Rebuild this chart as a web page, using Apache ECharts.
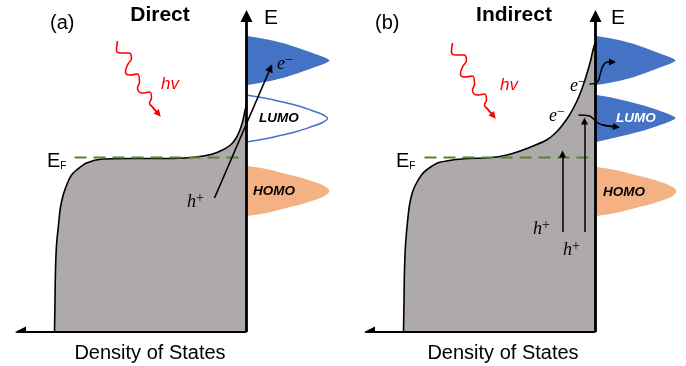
<!DOCTYPE html>
<html>
<head>
<meta charset="utf-8">
<script src="https://cdn.jsdelivr.net/npm/echarts@6/dist/echarts.min.js"></script>
<style>
html,body{margin:0;padding:0;background:#fff;}
#main{width:686px;height:366px;}
</style>
</head>
<body>
<div id="main"></div>
<script>
// units: x = density (0 on the E axis, metal states to the left), y = energy (0 at the DOS axis)
var dosA = [[-192,0],[-191.5,32],[-191,62],[-190,87],[-188,107],[-186,125],[-183,138],[-179,149],[-175,157],[-170,162],[-160,169],[-144,173],[-117,173.5],[-87,173.5],[-62,174],[-47,175.5],[-34,178],[-24,182],[-16,187],[-11,193],[-7,201],[-4,210],[-2,219],[0,228]];
var dosB = [[-192,0],[-191.5,32],[-191,62],[-190,87],[-188,110],[-186,127],[-183,140],[-179,149],[-174,157],[-169,162],[-158,169],[-143,172],[-126,173.5],[-111,174],[-96,175.5],[-83,178.5],[-66,184.5],[-49,192],[-40,199],[-33,207],[-26,217],[-19,230],[-14,242],[-9,257],[-5,271],[-2,284],[0,290]];
var fermiA = [[-172,174.5],[0,174.5]];
var fermiB = [[-171,174.5],[0,174.5]];

// molecular levels (width of the level vs energy)
var upperA = [[0,296],[18,293],[36,289],[52,284],[66,279],[77,275],[83,271.5],[77,268],[66,264],[52,259],[36,254],[18,250],[0,247]];
var lumoA  = [[0,237],[18,234],[36,230],[52,226],[64,222],[75,218],[81,213.5],[75,209],[64,205],[52,201],[36,197],[18,193],[0,190]];
var homoA  = [[0,166],[20,163],[40,158],[56,154],[68,150],[78,146],[83,141],[78,136],[68,132],[56,128],[40,124],[20,119],[0,116]];
var upperB = [[0,296],[18,293],[35,289],[50,284],[63,279],[74,275],[80,271.5],[74,268],[63,264],[50,259],[35,254],[18,250],[0,247]];
var lumoB  = [[0,237],[18,234],[35,230],[50,226],[62,222],[73,218],[80,214],[73,210],[62,206],[50,202],[35,198],[18,194],[0,190]];
var homoB  = [[0,165],[20,162],[40,157],[56,153],[68,149],[77,145],[81,141],[77,136],[68,132],[56,128],[40,124],[20,119],[0,116]];

// photons
var waveA = [[-129,291],[-130,282],[-126,279],[-118,279],[-115,274],[-119,267],[-121,260],[-117,257],[-109,258],[-107,250],[-109,244],[-104,239],[-97,240],[-95,234],[-97,229],[-94,225],[-88,218]];
var waveB = [[-143,289],[-144,280],[-140,277],[-132,277],[-129,272],[-133,265],[-135,258],[-131,255],[-123,256],[-121,248],[-123,242],[-118,237],[-111,238],[-109,232],[-111,227],[-108,223],[-102,216]];

// carrier transitions
var directA = [[-32,134],[24,264]];
var holeB1 = [[-33,100],[-33,178]];
var holeB2 = [[-11,100],[-11,211]];
var hopB1 = [[-6,248],[2,250],[5,259],[8,267],[12,270],[17,270]];
var hopB2 = [[-17,217],[-6,216],[1,210],[7,207],[21,205]];

var axisE = [[0,0],[0,316]];
var axisD = [[0,0],[-226,0]];

var SANS = '"Liberation Sans", Arial, sans-serif';
var SERIF = '"Liberation Serif", "DejaVu Serif", serif';
var BLUE = '#4472C4', ORANGE = '#F4B183', GRAY = '#AEAAAA', GREEN = '#548235';

var myChart = echarts.init(document.getElementById('main'));

function level(g, pts, fill, stroke, open) {
	return {
		type: 'custom', xAxisIndex: g, yAxisIndex: g, data: [0], silent: true, z: 2,
		renderItem: function(params, api) {
			var p = pts.map(function(d){ return api.coord(d); });
			var xs = p.map(function(q){ return q[0]; }), ys = p.map(function(q){ return q[1]; });
			var box = [[Math.min.apply(null, xs), Math.min.apply(null, ys)], [Math.max.apply(null, xs), Math.max.apply(null, ys)]];
			return {
				type: open ? 'polyline' : 'polygon',
				shape: {points: p, smooth: 0.3, smoothConstraint: box},
				style: {fill: fill || 'none', stroke: stroke || 'none', lineWidth: 1.5}
			};
		}
	};
}
function dos(g, d) {
	return {
		type: 'line', xAxisIndex: g, yAxisIndex: g, data: d, smooth: 0.3, showSymbol: false, silent: true, z: 1,
		lineStyle: {color: '#000', width: 1.6},
		areaStyle: {color: GRAY, opacity: 1}
	};
}
function fermi(g, d) {
	return {
		type: 'line', xAxisIndex: g, yAxisIndex: g, data: d, showSymbol: false, silent: true, z: 3,
		lineStyle: {color: GREEN, width: 2, type: [12, 7]}
	};
}
function curve(g, d, color, width, sm) {
	return {
		type: 'line', xAxisIndex: g, yAxisIndex: g, data: d, smooth: sm, showSymbol: false, silent: true, z: 5,
		lineStyle: {color: color, width: width}
	};
}
// straight arrow between the two given points, head at the second one
function arrow(g, pts, color, width, size, z) {
	return {
		type: 'lines', coordinateSystem: 'cartesian2d', xAxisIndex: g, yAxisIndex: g, silent: true,
		z: z || 6, symbol: ['none', 'triangle'], symbolSize: size,
		lineStyle: {color: color, width: width, opacity: 1, curveness: 0},
		data: [{coords: pts}]
	};
}
// bent arrow: smooth body + head on the last segment
function bent(g, pts, color, width, size, sm) {
	return [curve(g, pts, color, width, sm), arrow(g, pts.slice(-2), color, width, size)];
}

function txt(x, y, s, font, color, align) {
	return {type: 'text', x: x, y: y, z: 20, silent: true,
		style: {text: s, font: font, fill: color || '#000', align: align || 'left', verticalAlign: 'middle'}};
}
function rich(x, y, s, r) {
	return {type: 'text', x: x, y: y, z: 20, silent: true,
		style: {text: s, rich: r, fill: '#000', align: 'left', verticalAlign: 'middle'}};
}
var carrierRich = {
	v: {fontFamily: SERIF, fontStyle: 'italic', fontSize: 18, lineHeight: 20, verticalAlign: 'bottom', fill: '#000'},
	s: {fontFamily: SERIF, fontSize: 14, lineHeight: 20, verticalAlign: 'top', fill: '#000'}
};
var efRich = {
	e: {fontFamily: SANS, fontSize: 20, lineHeight: 20, verticalAlign: 'bottom', fill: '#000'},
	f: {fontFamily: SANS, fontSize: 10, lineHeight: 18, verticalAlign: 'bottom', fill: '#000'}
};

var series = [].concat(
	dos(0, dosA), fermi(0, fermiA),
	level(0, upperA, BLUE), level(0, lumoA, null, BLUE, true), level(0, homoA, ORANGE),
	arrow(0, axisE, '#000', 2.8, 12, 4), arrow(0, axisD, '#000', 2, 11, 4),
	bent(0, waveA, '#FF0000', 1.6, 7, 0.5),
	arrow(0, directA, '#000', 1.6, 8),

	dos(1, dosB), fermi(1, fermiB),
	level(1, upperB, BLUE), level(1, lumoB, BLUE), level(1, homoB, ORANGE),
	arrow(1, axisE, '#000', 2.8, 12, 4), arrow(1, axisD, '#000', 2, 11, 4),
	bent(1, waveB, '#FF0000', 1.6, 7, 0.5),
	arrow(1, holeB1, '#000', 1.5, 7), arrow(1, holeB2, '#000', 1.5, 7),
	bent(1, hopB1, '#000', 1.5, 7, 0.4), bent(1, hopB2, '#000', 1.5, 7, 0.4)
);

myChart.setOption({
	animation: false,
	grid: [
		{left: 14.5, top: 10, width: 320, height: 322},
		{left: 363.5, top: 10, width: 320, height: 322}
	],
	xAxis: [
		{type: 'value', gridIndex: 0, min: -232, max: 88, show: false},
		{type: 'value', gridIndex: 1, min: -232, max: 88, show: false}
	],
	yAxis: [
		{type: 'value', gridIndex: 0, min: 0, max: 322, show: false},
		{type: 'value', gridIndex: 1, min: 0, max: 322, show: false}
	],
	graphic: [
		txt(50, 23, '(a)', '20px ' + SANS),
		txt(160, 15, 'Direct', 'bold 21px ' + SANS, '#000', 'center'),
		txt(264, 18, 'E', '21px ' + SANS),
		rich(47, 161, '{e|E}{f|F}', efRich),
		txt(150, 353, 'Density of States', '20px ' + SANS, '#000', 'center'),
		txt(259, 118, 'LUMO', 'italic bold 13.5px ' + SANS),
		txt(253, 191, 'HOMO', 'italic bold 13.5px ' + SANS),
		txt(161, 84, 'hv', 'italic 17px ' + SANS, '#FF0000'),
		rich(277, 63, '{v|e}{s|\u2212}', carrierRich),
		rich(187, 201, '{v|h}{s|+}', carrierRich),

		txt(375, 23, '(b)', '20px ' + SANS),
		txt(514, 15, 'Indirect', 'bold 21px ' + SANS, '#000', 'center'),
		txt(611, 18, 'E', '21px ' + SANS),
		rich(396, 161, '{e|E}{f|F}', efRich),
		txt(503, 353, 'Density of States', '20px ' + SANS, '#000', 'center'),
		txt(616, 118, 'LUMO', 'italic bold 13.5px ' + SANS, '#FFFFFF'),
		txt(603, 192, 'HOMO', 'italic bold 13.5px ' + SANS),
		txt(500, 85, 'hv', 'italic 17px ' + SANS, '#FF0000'),
		rich(570, 85, '{v|e}{s|\u2212}', carrierRich),
		rich(549, 115, '{v|e}{s|\u2212}', carrierRich),
		rich(533, 228, '{v|h}{s|+}', carrierRich),
		rich(563, 249, '{v|h}{s|+}', carrierRich)
	],
	series: series
});
</script>
</body>
</html>
